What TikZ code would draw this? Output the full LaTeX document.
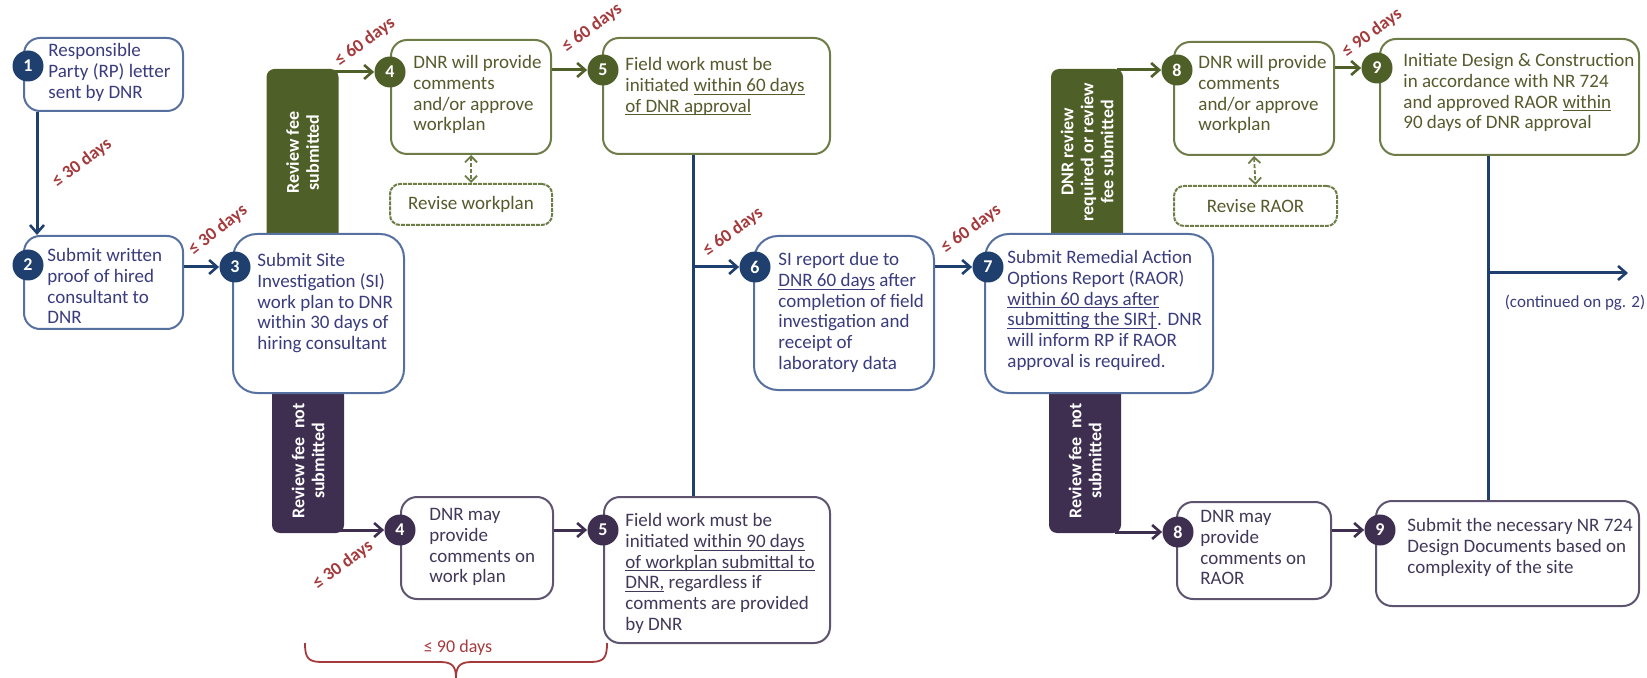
\documentclass[tikz,border=0pt]{standalone}
\usepackage{fontspec}
\setmainfont{Carlito}
\usetikzlibrary{arrows.meta, calc}

\newcommand{\ulin}[1]{\setbox0\hbox{#1}\rlap{\rule[-1.6pt]{\wd0}{0.45pt}}\box0\relax}

\definecolor{navy}{HTML}{1F3F6E}
\definecolor{bline}{HTML}{5670A0}
\definecolor{btext}{HTML}{3A3C7E}
\definecolor{olive}{HTML}{4F5F28}
\definecolor{gline}{HTML}{6E7C48}
\definecolor{gtext}{HTML}{565A2C}
\definecolor{plum}{HTML}{3E2E50}
\definecolor{pline}{HTML}{5E5470}
\definecolor{ptext}{HTML}{413859}
\definecolor{dayred}{HTML}{A53A3C}

\tikzset{
  bbox/.style={draw=#1, fill=white, line width=1pt, rounded corners=8pt,
               anchor=north west, inner sep=0pt},
  txt/.style={anchor=north west, inner sep=0pt, align=left, text=#1,
              font=\fontsize{9.5}{10.4}\selectfont, execute at begin node=\strut},
  num/.style={circle, fill=#1, minimum size=15.5pt, inner sep=0pt, text=white,
              font=\fontsize{9}{9}\selectfont\bfseries},
  tab/.style={fill=#1, rounded corners=4pt, inner sep=0pt, minimum width=36pt},
  tabtxt/.style={text=white, align=center, rotate=90,
                 font=\fontsize{9}{10}\selectfont\bfseries},
  days/.style={text=dayred, font=\fontsize{9}{9}\selectfont\bfseries},
  flow/.style={draw=#1, line width=1.5pt,
               -{Straight Barb[length=4pt, width=7pt, line width=1.3pt]}},
  revise/.style={bbox=gline, rounded corners=5pt, dash pattern=on 2pt off 0.5pt,
                 line width=1pt, text=gtext, font=\fontsize{9.5}{10.4}\selectfont},
  twoway/.style={draw=gline, dash pattern=on 2pt off 1pt, line width=0.9pt,
                 {Straight Barb[length=3pt, width=6pt, line width=0.9pt]}-{Straight Barb[length=3pt, width=6pt, line width=0.9pt]}}
}

\begin{document}
\begin{tikzpicture}[x=0.5pt, y=-0.5pt] % 一个单位 = 参考图的一个像素
  \useasboundingbox (0,0) rectangle (1647,678);

  % 竖直标签
  \node[tab=olive, minimum height=86.5pt] (tg1) at (302.5,155.5) {};
  \node[tab=olive, minimum height=86.5pt] (tg2) at (1087,155.5) {};
  \node[tab=plum, minimum height=75pt] (tp1) at (308,458) {};
  \node[tab=plum, minimum height=75pt] (tp2) at (1085,458) {};
  \node[tabtxt] (tg1t) at (302.5,152.5) {Review fee\\submitted};
  \node[tabtxt] (tg2t) at (1087,152) {DNR review\\required or review\\fee submitted};
  \node[tabtxt] (tp1t) at (308,461) {Review fee\ \ not\\submitted};
  \node[tabtxt] (tp2t) at (1085,461) {Review fee\ \ not\\submitted};

  % 方框
  \node[bbox=bline, minimum width=79.5pt, minimum height=36.5pt] (b1) at (23,37) {};
  \node[bbox=bline, minimum width=79.5pt, minimum height=46.5pt] (b2) at (23,235) {};
  \node[bbox=bline, minimum width=85.5pt, minimum height=79.5pt, rounded corners=12pt] (b3) at (232,233) {};
  \node[bbox=gline, minimum width=80pt, minimum height=57pt] (b4) at (390,39) {};
  \node[revise, minimum width=81pt, minimum height=20.5pt] (r4) at (389,183) {Revise workplan};
  \node[bbox=gline, minimum width=113.5pt, minimum height=58pt] (b5) at (602,37) {};
  \node[bbox=bline, minimum width=90pt, minimum height=77pt, rounded corners=12pt] (b6) at (753,235) {};
  \node[bbox=bline, minimum width=114pt, minimum height=79.5pt, rounded corners=12pt] (b7) at (984,233) {};
  \node[bbox=gline, minimum width=80pt, minimum height=56.5pt] (b8) at (1173,41) {};
  \node[revise, minimum width=81.5pt, minimum height=20pt] (r8) at (1173,185) {Revise RAOR};
  \node[bbox=gline, minimum width=129.5pt, minimum height=58pt] (b9) at (1379,38) {};
  \node[bbox=pline, minimum width=76pt, minimum height=51pt] (b4n) at (400,496) {};
  \node[bbox=pline, minimum width=113pt, minimum height=73pt] (b5n) at (603,496) {};
  \node[bbox=pline, minimum width=77pt, minimum height=48.5pt] (b8n) at (1176,501) {};
  \node[bbox=pline, minimum width=131.5pt, minimum height=52.5pt] (b9n) at (1375,500) {};

  % 编号圆圈
  \foreach \n/\x/\y/\c in {1/28/66/navy, 2/28/265/navy, 3/235/267/navy,
                           4/390/72/olive, 5/603/70/olive, 6/755/267/navy,
                           7/988/267/navy, 8/1177/70/olive, 9/1377/68/olive}
    \node[num=\c] (c\n) at (\x,\y) {\n};
  \foreach \n/\x/\y in {4/400/530, 5/603/530, 8/1178/532, 9/1380/530}
    \node[num=plum] (p\n) at (\x,\y) {\n};

  % 连线
  \coordinate (v5) at ($(b5.south west)+(91,0)$);
  \coordinate (v9) at ($(b9.south west)+(109,0)$);
  \coordinate (ce) at (1628,273);
  \draw[flow=navy] ($(b1.south west)+(14,0)$) -- ($(b2.north west)+(14,0)$);
  \draw[flow=navy] (c3 -| b2.east) -- (c3);
  \draw[flow=olive] ($(c4 -| tg1.east)+(-6,0)$) -- (c4);
  \draw[twoway] (b4.south) -- (r4.north);
  \draw[flow=olive] (c5 -| b4.east) -- (c5);
  \draw[navy, line width=1.5pt] (v5) -- (v5 |- b5n.north);
  \draw[flow=navy] (v5 |- c6) -- (c6);
  \draw[flow=navy] (c7 -| b6.east) -- (c7);
  \draw[flow=olive] ($(c8 -| tg2.east)+(-6,0)$) -- (c8);
  \draw[twoway] (b8.south) -- (r8.north);
  \draw[flow=olive] (c9 -| b8.east) -- (c9);
  \draw[navy, line width=1.5pt] (v9) -- (v9 |- b9n.north);
  \draw[flow=navy] (v9 |- ce) -- (ce);
  \draw[flow=plum] ($(p4 -| tp1.east)+(-6,0)$) -- (p4);
  \draw[flow=plum] (p5 -| b4n.east) -- (p5);
  \draw[flow=plum] ($(p8 -| tp2.east)+(-6,0)$) -- (p8);
  \draw[flow=plum] (p9 -| b8n.east) -- (p9);

  % 文字
  \node[txt=btext] (t1) at ($(b1.north west)+(25,6)$) {Responsible\\Party (RP) letter\\sent by DNR};
  \node[txt=btext] (t2) at ($(b2.north west)+(24,13)$) {Submit written\\proof of hired\\consultant to\\DNR};
  \node[txt=btext] (t3) at ($(b3.north west)+(25,20)$) {Submit Site\\Investigation (SI)\\work plan to DNR\\within 30 days of\\hiring consultant};
  \node[txt=gtext] (t4) at ($(b4.north west)+(23,16)$) {DNR will provide\\comments\\and/or approve\\workplan};
  \node[txt=gtext] (t5) at ($(b5.north west)+(23,20)$) {Field work must be\\initiated \ulin{within 60 days}\\\ulin{of DNR approval}};
  \node[txt=btext] (t6) at ($(b6.north west)+(25,17)$) {SI report due to\\\ulin{DNR 60 days} after\\completion of field\\investigation and\\receipt of\\laboratory data};
  \node[txt=btext] (t7) at ($(b7.north west)+(23,17)$) {Submit Remedial Action\\Options Report (RAOR)\\\ulin{within 60 days after}\\\ulin{submitting the SIR†}. DNR\\will inform RP if RAOR\\approval is required.};
  \node[txt=gtext] (t8) at ($(b8.north west)+(25,14)$) {DNR will provide\\comments\\and/or approve\\workplan};
  \node[txt=gtext] (t9) at ($(b9.north west)+(24,15)$) {Initiate Design \& Construction\\in accordance with NR 724\\and approved RAOR \ulin{within}\\90 days of DNR approval};
  \node[txt=ptext] (t4n) at ($(b4n.north west)+(29,12)$) {DNR may\\provide\\comments on\\work plan};
  \node[txt=ptext] (t5n) at ($(b5n.north west)+(22,17)$) {Field work must be\\initiated \ulin{within 90 days}\\\ulin{of workplan submittal to}\\\ulin{DNR,} regardless if\\comments are provided\\by DNR};
  \node[txt=ptext] (t8n) at ($(b8n.north west)+(24,9)$) {DNR may\\provide\\comments on\\RAOR};
  \node[txt=ptext] (t9n) at ($(b9n.north west)+(32,18)$) {Submit the necessary NR 724\\Design Documents based on\\complexity of the site};
  \node[text=btext, font=\fontsize{8.5}{8.5}\selectfont] (cont) at (1575,303) {(continued on pg. 2)};

  % 天数
  \node[days, rotate=37] (d1) at (82,163) {≤ 30 days};
  \node[days, rotate=38] (d2) at (218,230) {≤ 30 days};
  \node[days, rotate=36] (d3) at (365,42) {≤ 60 days};
  \node[days, rotate=36] (d4) at (592,28) {≤ 60 days};
  \node[days, rotate=36] (d5) at (733,232) {≤ 60 days};
  \node[days, rotate=36] (d6) at (971,229) {≤ 60 days};
  \node[days, rotate=36] (d7) at (1372,33) {≤ 90 days};
  \node[days, rotate=36] (d8) at (343,565) {≤ 30 days};
  \node[days, font=\fontsize{9}{9}\selectfont] (d9) at (458,648) {≤ 90 days};
  \draw[dayred, line width=0.9pt]
    (305,643) .. controls (305,658) and (308,662) .. (322,662) -- (440,662)
    .. controls (452,662) and (456,666) .. (456,678)
    .. controls (456,666) and (460,662) .. (472,662) -- (590,662)
    .. controls (604,662) and (607,658) .. (607,643);
\end{tikzpicture}
\end{document}
